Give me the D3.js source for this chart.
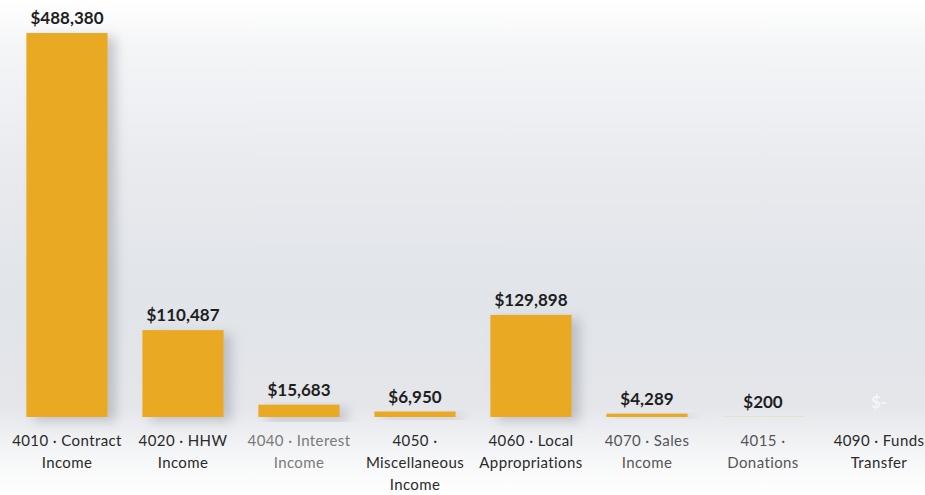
<!DOCTYPE html>
<html><head><meta charset="utf-8">
<script src="https://cdn.jsdelivr.net/npm/d3@7/dist/d3.min.js"></script>
<style>html,body{margin:0;padding:0;background:#fff;}svg{display:block;}</style>
</head><body>
<script>
const categories = [
  "4010 · Contract\nIncome",
  "4020 · HHW\nIncome",
  "4040 · Interest\nIncome",
  "4050 ·\nMiscellaneous\nIncome",
  "4060 · Local\nAppropriations",
  "4070 · Sales\nIncome",
  "4015 ·\nDonations",
  "4090 · Funds\nTransfer"
];
const values = [488380, 110487, 15683, 6950, 129898, 4289, 200, 0];
const valueLabels = ["$488,380", "$110,487", "$15,683", "$6,950", "$129,898", "$4,289", "$200", "$-"];

const W = 925, H = 495;
const svg = d3.select("body").append("svg").attr("width", W).attr("height", H);
const defs = svg.append("defs");
const g = defs.append("linearGradient").attr("id", "bg").attr("x1", 0).attr("y1", 0).attr("x2", 0).attr("y2", 1);
[[0, "#ffffff"], [0.1, "#f4f5f7"], [0.35, "#e8eaee"], [0.6, "#e1e4e9"], [0.82, "#e4e6ea"], [0.92, "#f5f6f7"], [1, "#ffffff"]]
  .forEach(([o, c]) => g.append("stop").attr("offset", o).attr("stop-color", c));
const f = defs.append("filter").attr("id", "sh").attr("x", "-20%").attr("y", "-20%").attr("width", "160%").attr("height", "160%");
f.append("feDropShadow").attr("dx", 8).attr("dy", 4).attr("stdDeviation", 6).attr("flood-color", "#8a8f99").attr("flood-opacity", 0.45);

svg.append("rect").attr("width", W).attr("height", H).attr("fill", "url(#bg)");

const baseY = 417;
const x = d3.scaleBand().domain(categories).range([9, 937]).paddingInner(0.3).paddingOuter(0.15);
const y = d3.scaleLinear().domain([0, 488380]).range([baseY, 33]);

svg.append("g").selectAll("rect").data(values).join("rect")
  .attr("x", (d, i) => x(categories[i]))
  .attr("width", x.bandwidth())
  .attr("y", d => y(d))
  .attr("height", d => baseY - y(d))
  .attr("fill", "#e9a920")
  .attr("filter", "url(#sh)");

svg.append("g").selectAll("text").data(values).join("text")
  .attr("x", (d, i) => x(categories[i]) + x.bandwidth() / 2)
  .attr("y", d => y(d) - 9)
  .attr("text-anchor", "middle")
  .attr("font-family", "Lato, 'Open Sans', sans-serif")
  .attr("font-weight", "bold")
  .attr("font-size", 17)
  .attr("fill", (d, i) => i === 7 ? "#f4f6f8" : "#1e1e1e")
  .text((d, i) => valueLabels[i]);

const lab = svg.append("g").selectAll("text").data(categories).join("text")
  .attr("text-anchor", "middle")
  .attr("font-family", "Lato, 'Open Sans', sans-serif")
  .attr("font-size", 15)
  .attr("letter-spacing", 0.4)
  .attr("fill", (d, i) => i === 2 ? "#7a7a7a" : (i === 5 || i === 6 ? "#555" : "#2a2a2a"));
lab.each(function(d) {
  const t = d3.select(this);
  const cx = x(d) + x.bandwidth() / 2;
  d.split("\n").forEach((line, k) => {
    t.append("tspan").attr("x", cx).attr("y", 446 + k * 22).text(line);
  });
});
</script>
</body></html>
